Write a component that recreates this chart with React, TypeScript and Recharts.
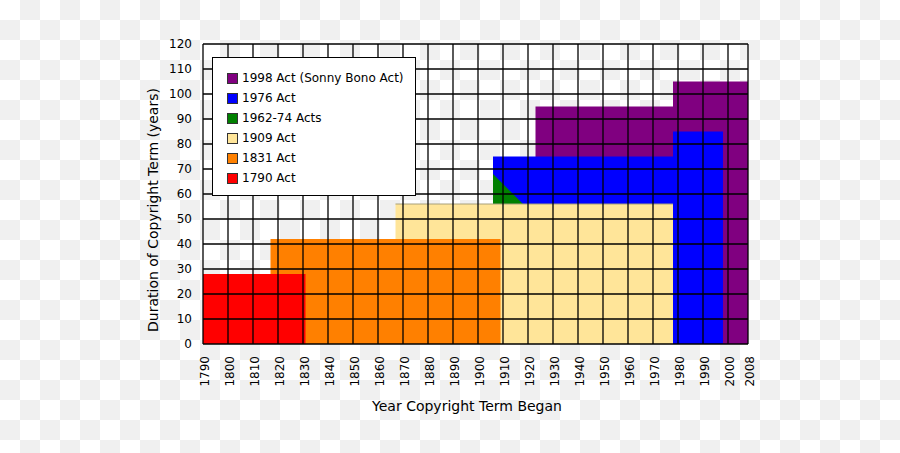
import { ComposedChart, Area, XAxis, YAxis, ReferenceLine, Legend } from "recharts";

const xTicks = [1790, 1800, 1810, 1820, 1830, 1840, 1850, 1860, 1870, 1880, 1890, 1900, 1910, 1920, 1930, 1940, 1950, 1960, 1970, 1980, 1990, 2000, 2008];
const yTicks = [0, 10, 20, 30, 40, 50, 60, 70, 80, 90, 100, 110, 120];

// each act: year the copyright term began -> term length (years)
const act1998 = [
  { year: 1923, term: 95 },
  { year: 1978, term: 95 },
  { year: 1978, term: 105 },
  { year: 2008, term: 105 },
];
const act1976 = [
  { year: 1906, term: 75 },
  { year: 1978, term: 75 },
  { year: 1978, term: 85 },
  { year: 1998, term: 85 },
];
const acts1962 = [
  { year: 1906, term: 68 },
  { year: 1918, term: 56 },
];
const act1909 = [
  { year: 1867, term: 56 },
  { year: 1978, term: 56 },
];
const act1831 = [
  { year: 1817, term: 42 },
  { year: 1909, term: 42 },
];
const act1790 = [
  { year: 1790, term: 28 },
  { year: 1831, term: 28 },
];

const seriesNames = ["1998 Act (Sonny Bono Act)", "1976 Act", "1962-74 Acts", "1909 Act", "1831 Act", "1790 Act"];
const seriesColors = ["#800080", "#0000ff", "#008000", "#ffe599", "#ff8000", "#ff0000"];
const seriesData = [act1998, act1976, acts1962, act1909, act1831, act1790];

const XTick = ({ x, y, payload }: any) => (
  <text
    x={0}
    y={0}
    transform={`translate(${x},${y}) rotate(-90)`}
    textAnchor="end"
    dy="0.5em"
    fontSize={12}
    fill="#000"
  >
    {payload.value}
  </text>
);

const XLabel = ({ viewBox }: any) => (
  <text
    x={viewBox.x + viewBox.width / 2 - 8.5}
    y={viewBox.y + 67}
    textAnchor="middle"
    fontSize={14}
    fill="#000"
  >
    Year Copyright Term Began
  </text>
);

const YLabel = ({ viewBox }: any) => (
  <text
    transform={`translate(${viewBox.x + 9.5},${viewBox.y + viewBox.height / 2 + 16}) rotate(-90)`}
    textAnchor="middle"
    dominantBaseline="central"
    fontSize={14}
    fill="#000"
  >
    Duration of Copyright Term (years)
  </text>
);

const LegendBox = () => (
  <div
    style={{
      width: 204,
      height: 139,
      boxSizing: "border-box",
      background: "#fff",
      border: "1px solid #000",
      padding: "10px 0 0 14px",
      fontSize: 12,
      color: "#000",
    }}
  >
    {seriesNames.map((name, i) => (
      <div key={name} style={{ display: "flex", alignItems: "center", height: 20 }}>
        <span
          style={{
            width: 11,
            height: 11,
            boxSizing: "border-box",
            background: seriesColors[i],
            border: "1px solid #333",
            marginRight: 4,
          }}
        />
        <span>{name}</span>
      </div>
    ))}
  </div>
);

export default function App() {
  return (
    <div
      style={{
        position: "absolute",
        left: 0,
        top: 0,
        width: 900,
        height: 453,
        background: "repeating-conic-gradient(#f0f0f0 0 25%, #ffffff 0 50%) 0 0 / 40px 40px",
        fontFamily: "'DejaVu Sans', sans-serif",
      }}
    >
      <ComposedChart width={900} height={453} margin={{ top: 44, right: 152, left: 143, bottom: 49 }}>
        <XAxis
          type="number"
          dataKey="year"
          domain={[1790, 2008]}
          ticks={xTicks}
          allowDataOverflow
          height={60}
          tickSize={0}
          tickMargin={12}
          axisLine={false}
          tick={<XTick />}
          interval={0}
          label={<XLabel />}
        />
        <YAxis
          type="number"
          domain={[0, 120]}
          ticks={yTicks}
          width={60}
          tickSize={0}
          tickMargin={11}
          axisLine={false}
          tick={{ fill: "#000", fontSize: 12 }}
          interval={0}
          label={<YLabel />}
        />
        <Legend
          layout="vertical"
          align="center"
          verticalAlign="middle"
          wrapperStyle={{ left: 212, top: 57, width: 204 }}
          content={<LegendBox />}
        />
        {seriesData.map((d, i) => (
          <Area
            key={seriesNames[i]}
            data={d}
            dataKey="term"
            name={seriesNames[i]}
            type="linear"
            fill={seriesColors[i]}
            fillOpacity={1}
            stroke={i === 3 ? "#a8a07a" : "none"}
            strokeWidth={1}
            dot={false}
            activeDot={false}
            isAnimationActive={false}
          />
        ))}
        {xTicks.map((t) => (
          <ReferenceLine key={"x" + t} x={t} stroke="#000" strokeWidth={1.3} ifOverflow="visible" />
        ))}
        {yTicks.map((t) => (
          <ReferenceLine key={"y" + t} y={t} stroke="#000" strokeWidth={1.3} ifOverflow="visible" />
        ))}
      </ComposedChart>
    </div>
  );
}
